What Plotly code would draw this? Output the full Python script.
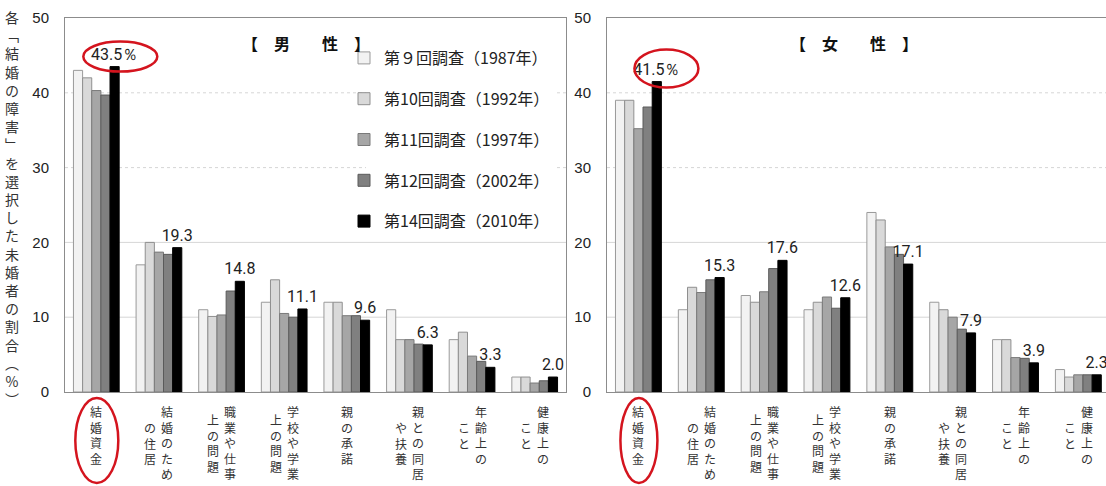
import plotly.graph_objects as go

# Reasons chosen as "obstacles to marriage" (multiple answers), %
categories = ["結婚資金", "結婚のための住居", "職業や仕事上の問題", "学校や学業上の問題",
              "親の承諾", "親との同居や扶養", "年齢上のこと", "健康上のこと"]

# Vertical label columns for each category, listed right column first
label_columns = [["結婚資金"], ["結婚のため", "の住居"], ["職業や仕事", "上の問題"],
                 ["学校や学業", "上の問題"], ["親の承諾"], ["親との同居", "や扶養"],
                 ["年齢上の", "こと"], ["健康上の", "こと"]]

survey_names = ["第９回調査（1987年）", "第10回調査（1992年）", "第11回調査（1997年）",
                "第12回調査（2002年）", "第14回調査（2010年）"]

male_1987 = [43.0, 17.0, 11.0, 12.0, 12.0, 11.0, 7.0, 2.0]
male_1992 = [42.0, 20.0, 10.1, 15.0, 12.0, 7.0, 8.0, 2.0]
male_1997 = [40.3, 18.7, 10.3, 10.5, 10.2, 7.0, 4.8, 1.2]
male_2002 = [39.7, 18.4, 13.5, 10.0, 10.2, 6.4, 4.1, 1.5]
male_2010 = [43.5, 19.3, 14.8, 11.1, 9.6, 6.3, 3.3, 2.0]

female_1987 = [39.0, 11.0, 12.9, 11.0, 24.0, 12.0, 7.0, 3.0]
female_1992 = [39.0, 14.0, 12.0, 12.0, 23.0, 11.0, 7.0, 2.0]
female_1997 = [35.2, 13.3, 13.4, 12.7, 19.4, 10.0, 4.6, 2.3]
female_2002 = [38.1, 15.0, 16.5, 11.2, 18.4, 8.4, 4.5, 2.3]
female_2010 = [41.5, 15.3, 17.6, 12.6, 17.1, 7.9, 3.9, 2.3]

y_ticks = [0, 10, 20, 30, 40, 50]
y_title = "各「結婚の障害」を選択した未婚者の割合（%）"
panel_titles = ["【　男　　性　】", "【　女　　性　】"]

male = [male_1987, male_1992, male_1997, male_2002, male_2010]
female = [female_1987, female_1992, female_1997, female_2002, female_2010]

fills = ["#f2f2f2", "#d9d9d9", "#a6a6a6", "#808080", "#000000"]
edges = ["#9a9a9a", "#8f8f8f", "#7a7a7a", "#5a5a5a", "#000000"]

CJK = "Noto Sans CJK JP"
W, H = 1106, 486
PLOT_TOP, PLOT_BOTTOM = 18, 392
PLOT_H = PLOT_BOTTOM - PLOT_TOP
idx = list(range(len(categories)))

fig = go.Figure()


def value_text(vals):
    out = []
    for i, v in enumerate(vals):
        out.append(f"{v:.1f}％" if i == 0 else f"{v:.1f}")
    return out


for panel, (series, xa, ya) in enumerate([(male, "x", "y"), (female, "x2", "y2")]):
    for k, vals in enumerate(series):
        last = k == len(series) - 1
        fig.add_trace(go.Bar(
            x=idx, y=vals, name=survey_names[k],
            xaxis=xa, yaxis=ya,
            marker=dict(color=fills[k], line=dict(color=edges[k], width=1)),
            showlegend=(panel == 0),
            legendgroup=f"g{k}",
            text=value_text(vals) if last else None,
            textposition="outside" if last else "none",
            textfont=dict(family="Roboto", size=16, color="#222222"),
            constraintext="none",
            cliponaxis=False,
            hoverinfo="skip",
        ))

axis_common = dict(showline=True, linecolor="#8c8c8c", linewidth=1, mirror=True,
                   zeroline=False)
tick_font = dict(family="Liberation Sans", size=15, color="#222222")

fig.update_layout(
    width=W, height=H,
    margin=dict(l=0, r=0, t=PLOT_TOP, b=H - PLOT_BOTTOM),
    paper_bgcolor="white", plot_bgcolor="white",
    barmode="group", bargap=0.27, bargroupgap=0.0,
    font=dict(family=CJK, color="#222222"),
    xaxis=dict(domain=[65 / W, 566 / W], range=[-0.5, 7.5], showticklabels=False,
               showgrid=False, ticks="", **axis_common),
    xaxis2=dict(domain=[607 / W, 1.0], range=[-0.5, 7.44], showticklabels=False,
                showgrid=False, ticks="", anchor="y2", **axis_common),
    yaxis=dict(range=[0, 50], tickvals=y_ticks, showgrid=False, ticks="",
               ticklabelstandoff=12, tickfont=tick_font, **axis_common),
    yaxis2=dict(range=[0, 50], tickvals=y_ticks, showgrid=False, ticks="",
                ticklabelstandoff=12, anchor="x2", tickfont=tick_font, **axis_common),
    legend=dict(x=344 / W, y=1.0 - 23 / PLOT_H, xanchor="left", yanchor="top",
                bgcolor="rgba(0,0,0,0)", borderwidth=0, tracegroupgap=17,
                font=dict(family=CJK, size=16, color="#222222"),
                itemwidth=30),
)

# Horizontal gridlines (upper two dotted, lower two solid)
for xd, yr in [("x domain", "y"), ("x2 domain", "y2")]:
    for t in y_ticks[1:-1]:
        fig.add_shape(type="line", xref=xd, yref=yr, x0=0, x1=1, y0=t, y1=t,
                      line=dict(color="#d6d6d6", width=1,
                                dash="dot" if t >= 30 else "solid"),
                      layer="below")

# White panel behind the legend entries so gridlines stop there
fig.add_shape(type="rect", xref="paper", yref="paper",
              x0=366 / W, x1=556 / W,
              y0=(PLOT_BOTTOM - 236) / PLOT_H, y1=(PLOT_BOTTOM - 40) / PLOT_H,
              fillcolor="white", line=dict(width=0), layer="below")

# Panel titles
for title, cx in zip(panel_titles, [306, 854]):
    fig.add_annotation(text=title, xref="paper", yref="paper",
                       x=cx / W, y=(PLOT_BOTTOM - 43) / PLOT_H,
                       xanchor="center", yanchor="middle", showarrow=False,
                       font=dict(family=CJK, size=16, color="#111111", weight="bold"))

# Vertical y-axis title
vertical_forms = {"「": "﹁", "」": "﹂", "（": "︵", "）": "︶"}
ychars = [vertical_forms.get(c, c) for c in y_title]
fig.add_annotation(text="<br>".join(ychars), xref="paper", yref="paper",
                   x=12 / W, y=(PLOT_BOTTOM - 5) / PLOT_H, xanchor="center", yanchor="top",
                   showarrow=False, align="center",
                   font=dict(family=CJK, size=14, color="#333333"))

# Vertical category labels, written top-to-bottom, columns right-to-left
label_size = 12
line_step = label_size * 1.3
col_step = 17
for xa in ["x", "x2"]:
    for ci, cols in enumerate(label_columns):
        ncol = len(cols)
        for j, col in enumerate(cols):
            xshift = (ncol - 1) / 2 * col_step - j * col_step
            start = (len(cols[0]) - len(col)) / 2
            fig.add_annotation(text="<br>".join(col), xref=xa, yref="paper", x=ci, y=0,
                               xanchor="center", yanchor="top", align="center",
                               xshift=xshift, yshift=-(9 + start * line_step),
                               showarrow=False,
                               font=dict(family=CJK, size=label_size, color="#333333"))

# Red ellipses highlighting the top reason
red = dict(color="#d4141e", width=2.5)
fig.add_shape(type="circle", xref="x", yref="y", xsizemode="pixel", ysizemode="pixel",
              xanchor=0, yanchor=male_2010[0], x0=-13, x1=61, y0=-5, y1=25, line=red)
fig.add_shape(type="circle", xref="x2", yref="y2", xsizemode="pixel", ysizemode="pixel",
              xanchor=0, yanchor=female_2010[0], x0=-4, x1=60, y0=-6, y1=32, line=red)
fig.add_shape(type="circle", xref="x", yref="paper", xsizemode="pixel", ysizemode="pixel",
              xanchor=0, yanchor=0, x0=-21, x1=22, y0=-6, y1=-91, line=red)
fig.add_shape(type="circle", xref="x2", yref="paper", xsizemode="pixel", ysizemode="pixel",
              xanchor=0, yanchor=0, x0=-18, x1=19, y0=-6, y1=-91, line=red)

fig.write_html("out.html")
